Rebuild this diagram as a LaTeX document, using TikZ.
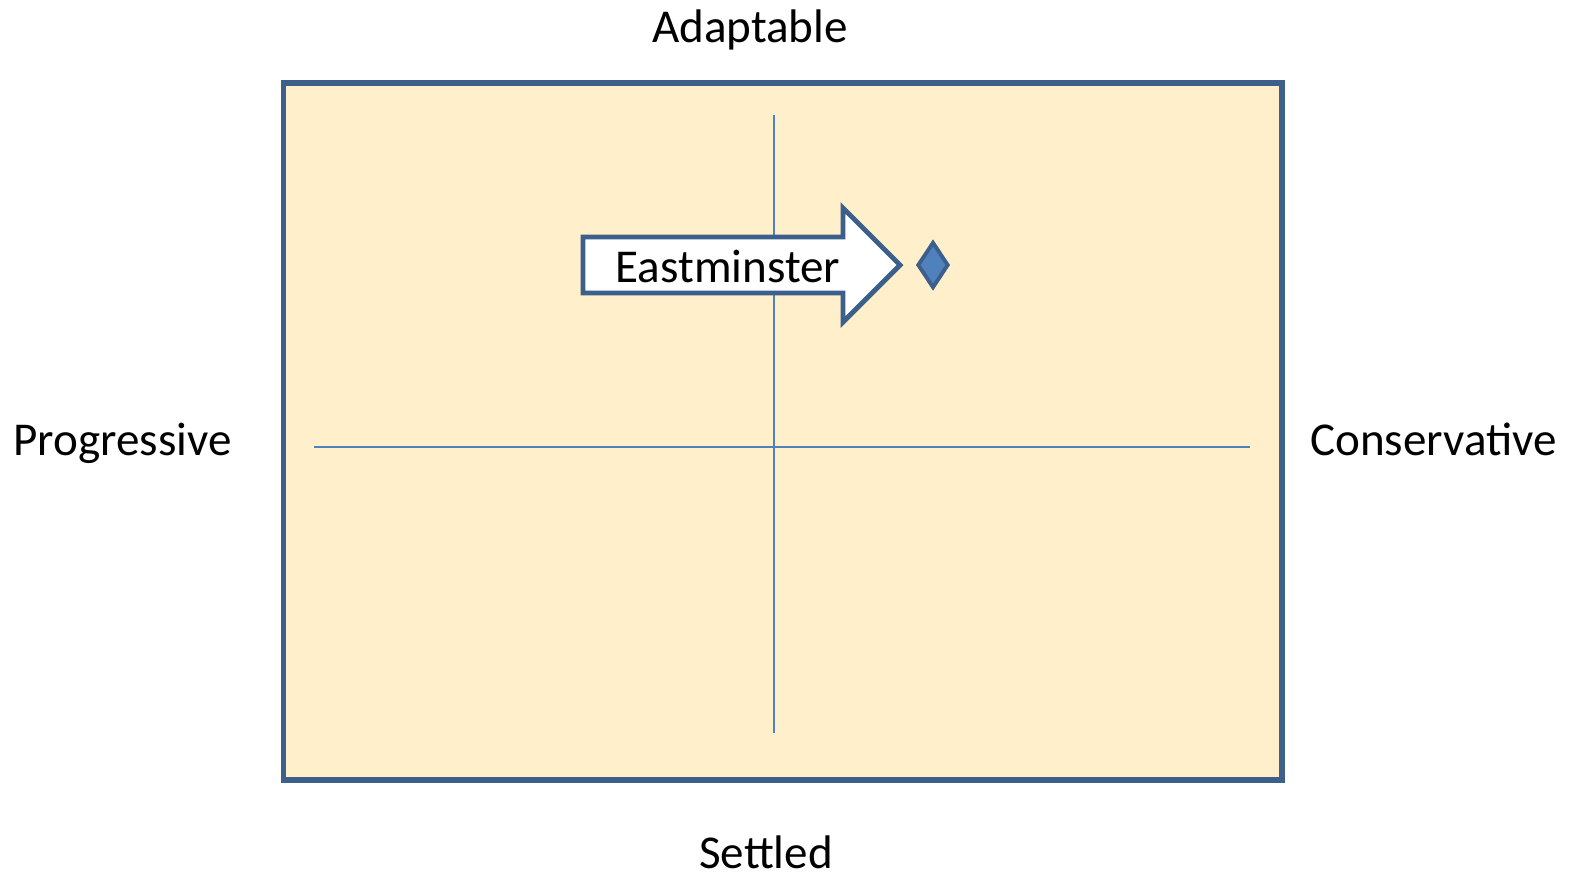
\documentclass[tikz,border=0pt]{standalone}
\usepackage{fontspec}
\setmainfont{Carlito}
\usetikzlibrary{shapes.geometric}
\definecolor{frameblue}{HTML}{3C5F8C}
\definecolor{lineblue}{HTML}{4F81BD}
\definecolor{paper}{HTML}{FFF0CB}
\tikzset{
  axislabel/.style={anchor=base,font=\fontsize{13.4}{16}\selectfont},
  axisline/.style={lineblue,line width=0.45pt}
}
\begin{document}
\begin{tikzpicture}
        \useasboundingbox (0,0) rectangle (15.79,-8.77);

        \draw [frameblue,fill=paper,line width=1.7pt] (2.835,-0.83) rectangle (12.82,-7.80);

        \coordinate (top) at (7.74,-1.15);
        \coordinate (bottom) at (7.74,-7.33);
        \coordinate (left) at (3.14,-4.47);
        \coordinate (right) at (12.50,-4.47);
        \draw [axisline] (top) -- (bottom);
        \draw [axisline] (left) -- (right);

        \draw [frameblue,fill=white,line width=1.4pt,line join=miter]
         (5.83,-2.37) -- (8.43,-2.37) -- (8.43,-2.08) -- (9.00,-2.65)
         -- (8.43,-3.22) -- (8.43,-2.93) -- (5.83,-2.93) -- cycle;
        \node[axislabel] (east) at (7.28,-2.82) {Eastminster};

        \node[diamond,draw=frameblue,fill=lineblue,line width=1.1pt,inner sep=0pt,
              minimum width=0.31cm,minimum height=0.46cm] (point) at (9.33,-2.65) {};

        \node[axislabel] (adapt) at (7.50,-0.42) {Adaptable};
        \node[axislabel] (settle) at (7.66,-8.68) {Settled};
        \node[axislabel] (prog) at (1.225,-4.55) {Progressive};
        \node[axislabel] (cons) at (14.335,-4.55) {Conservative};
       \end{tikzpicture}
\end{document}
